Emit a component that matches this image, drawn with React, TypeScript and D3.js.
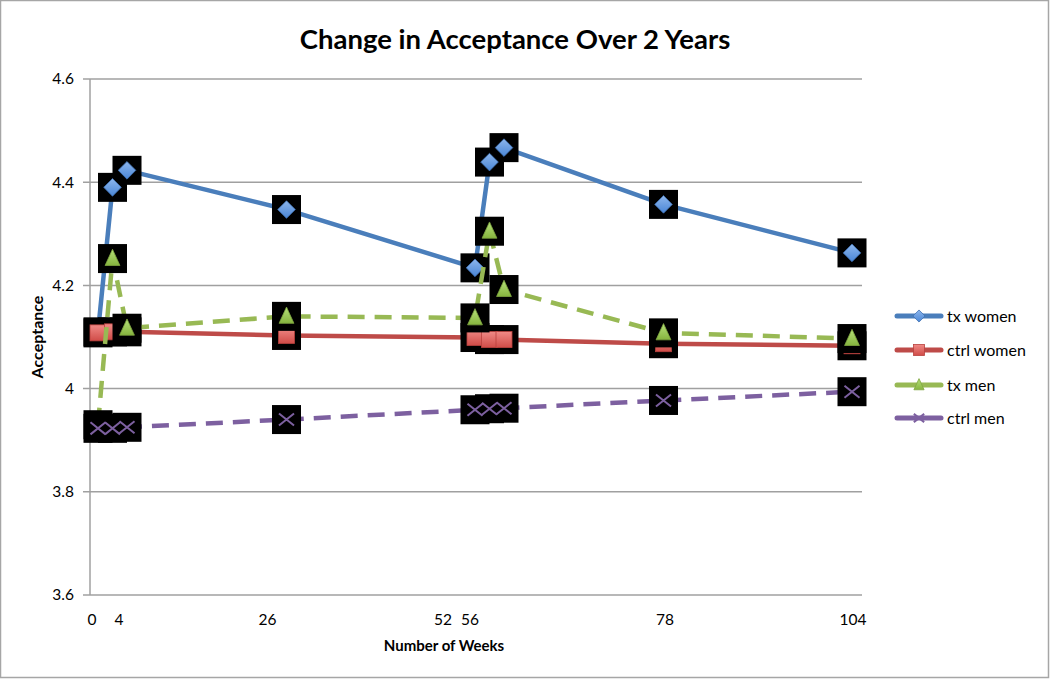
import React, { useEffect } from "react";
import * as d3 from "d3";

// ---- data ----
const weeks = [0, 2, 4, 26, 52, 54, 56, 78, 104];
const txWomen = [4.11, 4.39, 4.423, 4.347, 4.234, 4.439, 4.467, 4.357, 4.263];
const ctrlWomen = [4.108, 4.11, 4.11, 4.103, 4.099, 4.095, 4.095, 4.087, 4.083];
const txMen = [3.93, 4.252, 4.117, 4.14, 4.137, 4.305, 4.192, 4.108, 4.097];
const ctrlMen = [3.923, 3.923, 3.925, 3.94, 3.959, 3.961, 3.962, 3.977, 3.994];

const seriesNames = ["tx women", "ctrl women", "tx men", "ctrl men"];
const xTickLabels = [0, 4, 26, 52, 56, 78, 104];
const yTicks = [3.6, 3.8, 4.0, 4.2, 4.4, 4.6];

const title = "Change in Acceptance Over 2 Years";
const xTitle = "Number of Weeks";
const yTitle = "Acceptance";

// ---- layout / style ----
const W = 1050;
const H = 679;
const plot = { left: 90, right: 862, top: 79, bottom: 595 };
const FONT = "Lato, 'Open Sans', 'DejaVu Sans', sans-serif";

const styles = [
  { color: "#4a7ebb", dash: null, marker: "diamond" },
  { color: "#be4b48", dash: null, marker: "square" },
  { color: "#98b954", dash: "17 10", marker: "triangle" },
  { color: "#7d60a0", dash: "17 10", marker: "x" },
];

function Marker({ type, x, y, s }: { type: string; x: number; y: number; s: number }) {
  if (type === "diamond") {
    const r = s * 0.55;
    return (
      <path
        d={`M${x},${y - r}L${x + r},${y}L${x},${y + r}L${x - r},${y}Z`}
        fill="url(#gDiamond)"
        stroke="#3d6fb0"
        strokeWidth={0.8}
      />
    );
  }
  if (type === "square") {
    const r = s * 0.5;
    return (
      <rect
        x={x - r}
        y={y - r}
        width={2 * r}
        height={2 * r}
        fill="url(#gSquare)"
        stroke="#b9413e"
        strokeWidth={0.8}
      />
    );
  }
  if (type === "triangle") {
    const r = s * 0.58;
    return (
      <path
        d={`M${x},${y - r}L${x + r * 0.8},${y + r * 0.75}L${x - r * 0.8},${y + r * 0.75}Z`}
        fill="url(#gTriangle)"
        stroke="#7fa640"
        strokeWidth={0.8}
      />
    );
  }
  const r = s * 0.47;
  return (
    <path
      d={`M${x - r},${y - r * 0.8}L${x + r},${y + r * 0.8}M${x + r},${y - r * 0.8}L${x - r},${y + r * 0.8}`}
      stroke="#7d60a0"
      strokeWidth={2}
      fill="none"
    />
  );
}

export default function App() {
  useEffect(() => {
    document.body.style.margin = "0";
  }, []);

  const x = d3.scaleLinear().domain([0, 104]).range([98, 852]);
  const y = d3.scaleLinear().domain([3.6, 4.6]).range([plot.bottom, plot.top]);
  // tick labels of the reference sit on their own (uneven) spacing
  const xLabel = d3.scaleLinear().domain([0, 56, 78, 104]).range([92, 470, 665, 853]);

  const allSeries = [txWomen, ctrlWomen, txMen, ctrlMen];
  const line = d3
    .line<number>()
    .x((_, i) => x(weeks[i]))
    .y((d) => y(d));

  const legendRows = [316, 350, 385, 418];
  const boxSize = 29;

  return (
    <svg width={W} height={H} style={{ display: "block", background: "#fff" }} fontFamily={FONT}>
      <defs>
        <linearGradient id="gDiamond" x1="0" y1="0" x2="0" y2="1">
          <stop offset="0" stopColor="#8db6ec" />
          <stop offset="1" stopColor="#4a86d6" />
        </linearGradient>
        <linearGradient id="gSquare" x1="0" y1="0" x2="0" y2="1">
          <stop offset="0" stopColor="#f08a86" />
          <stop offset="1" stopColor="#d04c48" />
        </linearGradient>
        <linearGradient id="gTriangle" x1="0" y1="0" x2="0" y2="1">
          <stop offset="0" stopColor="#b6e07a" />
          <stop offset="1" stopColor="#86b43e" />
        </linearGradient>
      </defs>
      <rect x={0.5} y={0.5} width={W - 2} height={H - 2} fill="#fff" stroke="#a6a6a6" strokeWidth={1.5} />

      <text x={515} y={49} textAnchor="middle" fontWeight="bold" fontSize={27.5} fill="#000">
        {title}
      </text>

      {/* gridlines + y ticks */}
      {yTicks.map((t) => (
        <g key={t}>
          <line x1={83} x2={plot.right} y1={y(t)} y2={y(t)} stroke="#a0a0a0" strokeWidth={1.5} />
          <text x={74} y={y(t)} dy="0.35em" textAnchor="end" fontSize={15.5} fill="#000">
            {d3.format("~g")(t)}
          </text>
        </g>
      ))}
      <line x1={plot.left} x2={plot.left} y1={plot.top} y2={plot.bottom} stroke="#a0a0a0" strokeWidth={1.5} />

      {/* x tick labels */}
      {xTickLabels.map((t) => (
        <text key={t} x={xLabel(t)} y={625} textAnchor="middle" fontSize={15.5} fill="#000">
          {t}
        </text>
      ))}

      <text x={444} y={651} textAnchor="middle" fontWeight="bold" fontSize={15} fill="#000">
        {xTitle}
      </text>
      <text
        transform={`translate(43,337) rotate(-90)`}
        textAnchor="middle"
        fontWeight="bold"
        fontSize={16}
        fill="#000"
      >
        {yTitle}
      </text>

      {/* series */}
      {allSeries.map((vals, si) => (
        <g key={si}>
          <path
            d={line(vals) || ""}
            fill="none"
            stroke={styles[si].color}
            strokeWidth={4.5}
            strokeDasharray={styles[si].dash || undefined}
            strokeLinejoin="round"
          />
          {vals.map((v, i) => (
            <rect
              key={"b" + i}
              x={x(weeks[i]) - boxSize / 2}
              y={y(v) - boxSize / 2}
              width={boxSize}
              height={boxSize}
              fill="#000"
            />
          ))}
          {vals.map((v, i) => (
            <Marker key={"m" + i} type={styles[si].marker} x={x(weeks[i])} y={y(v)} s={16} />
          ))}
        </g>
      ))}

      {/* legend */}
      {seriesNames.map((n, i) => (
        <g key={n}>
          <line
            x1={897}
            x2={941}
            y1={legendRows[i]}
            y2={legendRows[i]}
            stroke={styles[i].color}
            strokeWidth={5}
            strokeLinecap="round"
          />
          <Marker type={styles[i].marker} x={919} y={legendRows[i]} s={11} />
          <text x={947} y={legendRows[i]} dy="0.35em" fontSize={16} fill="#000">
            {n}
          </text>
        </g>
      ))}
    </svg>
  );
}
